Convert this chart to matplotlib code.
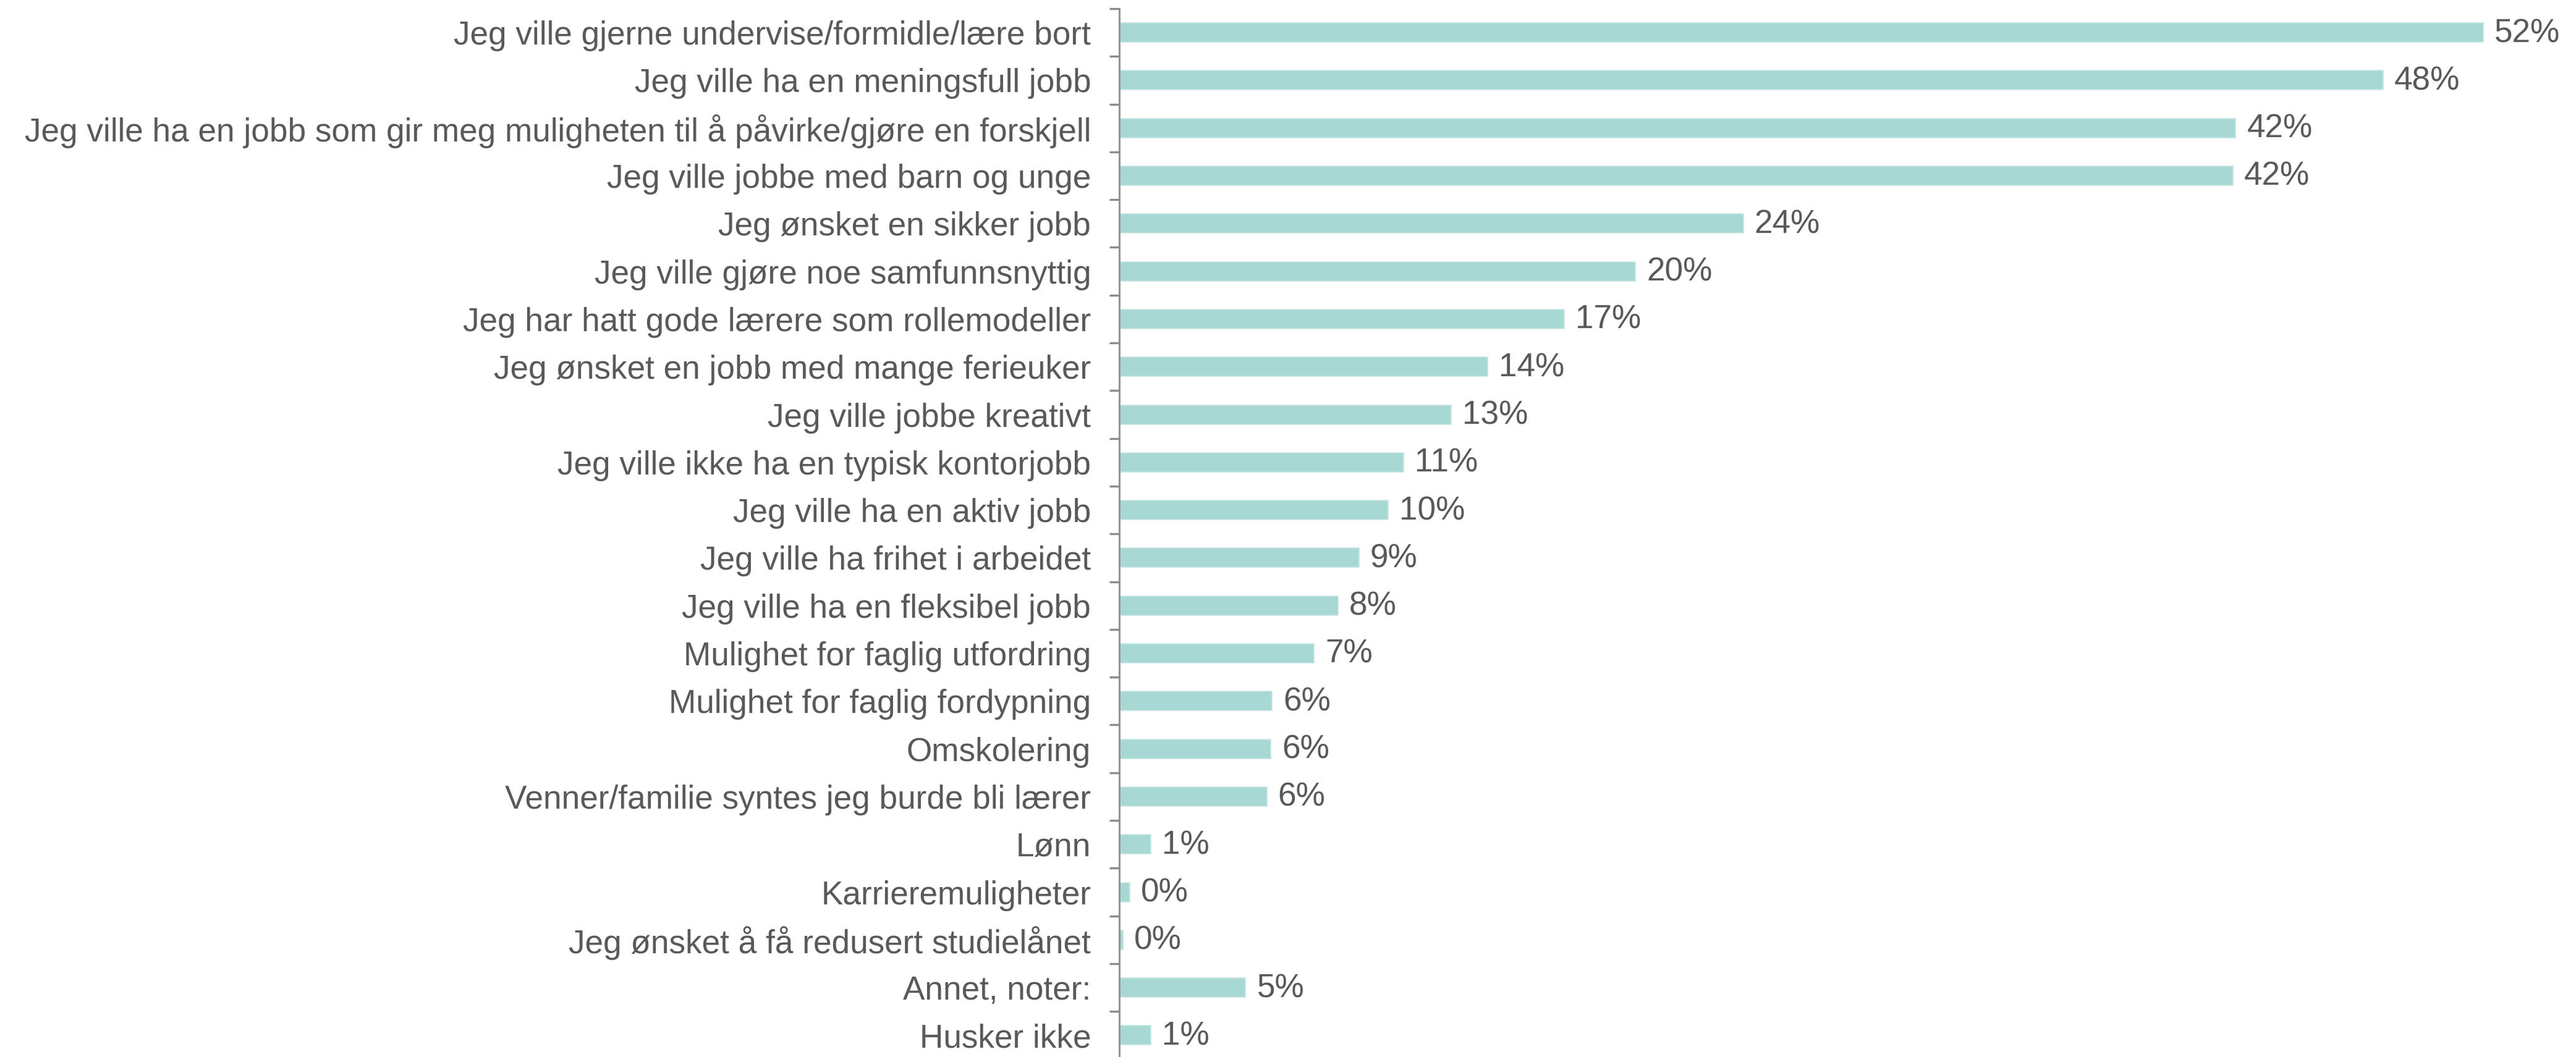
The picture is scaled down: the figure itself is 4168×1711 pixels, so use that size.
import matplotlib.pyplot as plt
import numpy as np

plt.rcParams['font.family'] = ['Liberation Sans', 'DejaVu Sans']

# svar, topp til bunn
categories = [
    "Jeg ville gjerne undervise/formidle/lære bort",
    "Jeg ville ha en meningsfull jobb",
    "Jeg ville ha en jobb som gir meg muligheten til å påvirke/gjøre en forskjell",
    "Jeg ville jobbe med barn og unge",
    "Jeg ønsket en sikker jobb",
    "Jeg ville gjøre noe samfunnsnyttig",
    "Jeg har hatt gode lærere som rollemodeller",
    "Jeg ønsket en jobb med mange ferieuker",
    "Jeg ville jobbe kreativt",
    "Jeg ville ikke ha en typisk kontorjobb",
    "Jeg ville ha en aktiv jobb",
    "Jeg ville ha frihet i arbeidet",
    "Jeg ville ha en fleksibel jobb",
    "Mulighet for faglig utfordring",
    "Mulighet for faglig fordypning",
    "Omskolering",
    "Venner/familie syntes jeg burde bli lærer",
    "Lønn",
    "Karrieremuligheter",
    "Jeg ønsket å få redusert studielånet",
    "Annet, noter:",
    "Husker ikke",
]
values = [51.8, 48.0, 42.4, 42.3, 23.7, 19.6, 16.9, 14.0, 12.6, 10.8, 10.2,
          9.1, 8.3, 7.4, 5.8, 5.75, 5.6, 1.2, 0.4, 0.14, 4.8, 1.2]
value_labels = ["52%", "48%", "42%", "42%", "24%", "20%", "17%", "14%", "13%",
                "11%", "10%", "9%", "8%", "7%", "6%", "6%", "6%", "1%", "0%",
                "0%", "5%", "1%"]

W, H, DPI = 4168, 1711, 200
fig = plt.figure(figsize=(W / DPI, H / DPI), dpi=DPI)
ax = fig.add_axes([1811 / W, -3.6 / H, 1 - 1811 / W, 1700.6 / H])

text_col = '#595959'
bar_col = '#A8D8D4'
fs = 19.15

y = np.arange(len(categories))
ax.barh(y, values, height=0.4, color=bar_col, edgecolor='#C6E6E3', linewidth=0.6)

for yi, v, lab in zip(y, values, value_labels):
    ax.annotate(lab, (v, yi), xytext=(6.5, -0.5), textcoords='offset points',
                va='center', ha='left', fontsize=fs, color=text_col)

ax.set_xlim(0, (W - 1811) / 42.6)
ax.set_ylim(len(categories) - 0.5, -0.5)

ax.set_yticks(y)
ax.set_yticklabels(categories, fontsize=fs, color=text_col)
ax.tick_params(axis='y', which='major', length=0, pad=16.5)
ax.set_yticks(np.arange(-0.5, len(categories) + 0.5, 1), minor=True)
ax.tick_params(axis='y', which='minor', length=5.6, width=1.2, color='#8C8C8C', direction='out')
ax.set_xticks([])

for s in ['top', 'right', 'bottom']:
    ax.spines[s].set_visible(False)
ax.spines['left'].set_color('#8C8C8C')
ax.spines['left'].set_linewidth(1.0)

fig.savefig('out.png', dpi=DPI)
